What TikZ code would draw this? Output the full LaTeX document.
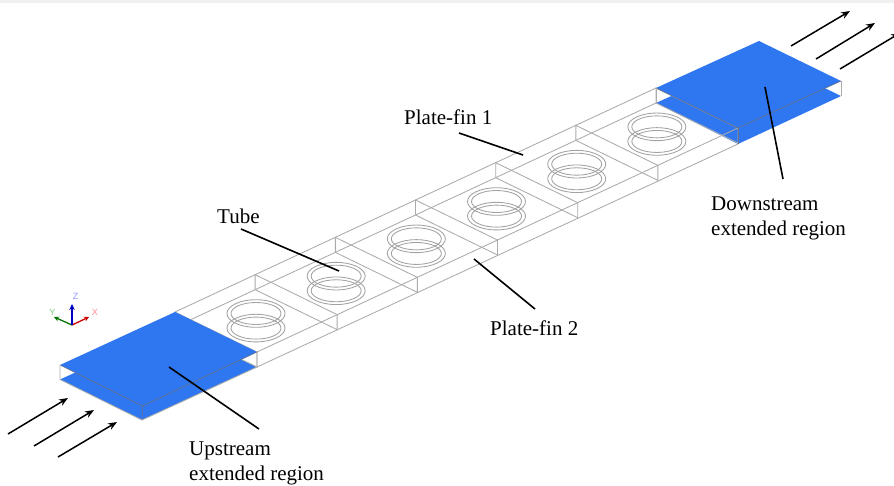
\documentclass[tikz,border=0pt]{standalone}
\usepackage{fontspec}
\setmainfont{Liberation Serif}
\setsansfont{Liberation Sans}
\usetikzlibrary{arrows.meta,calc}
\definecolor{finblue}{HTML}{2F76F1}
\definecolor{wire}{HTML}{ABABAB}
\definecolor{ringc}{HTML}{A2A2A2}
\definecolor{edgec}{HTML}{66738C}
\tikzset{
  x=1pt,y=-1pt,
  wireline/.style={draw=wire,line width=0.85pt},
  ringline/.style={draw=ringc,line width=0.85pt},
  edgeline/.style={draw=edgec,line width=0.65pt,line join=round},
  blueface/.style={fill=finblue,draw=none},
  flow/.style={draw=black,line width=1.5pt,-{Stealth[length=9pt,width=7pt]}},
  leader/.style={draw=black,line width=1.6pt},
  lab/.style={inner sep=0pt,font=\fontsize{21}{25}\selectfont,align=left,text=black},
  axlab/.style={inner sep=0pt,font=\sffamily\fontsize{9}{9}\selectfont},
}
\begin{document}
\begin{tikzpicture}
\useasboundingbox (0,0) rectangle (894,485);
\fill[white] (0,0) rectangle (894,485);
\fill[black!6] (0,0) rectangle (894,3);

% corners
\coordinate (uLt) at (60,365);  \coordinate (uBt) at (175,312);
\coordinate (uRt) at (257,352); \coordinate (uFt) at (142.5,406);
\coordinate (uLb) at (60,379.5);\coordinate (uBb) at (175,327);
\coordinate (uRb) at (257,367); \coordinate (uFb) at (142,420);
\coordinate (dLt) at (656,88);  \coordinate (dBt) at (759,41);
\coordinate (dRt) at (841,81);  \coordinate (dFt) at (738,128);
\coordinate (dLb) at (656,103); \coordinate (dBb) at (759,56);
\coordinate (dRb) at (841,96);  \coordinate (dFb) at (738,144);

% lower blue faces
\path[blueface] (uLb) -- (uBb) -- (uRb) -- (uFb) -- cycle;
\path[blueface] (dLb) -- (dBb) -- (dRb) -- (dFb) -- cycle;

% plate-fin wireframe
\draw[wireline] (uBt) -- (dLt);
\draw[wireline] (uBb) -- (dLb);
\draw[wireline] (uRt) -- (dFt);
\draw[wireline] (uRb) -- (dFb);
\foreach \i in {0,...,6}{
  \coordinate (Bt\i) at ($(175,312)+\i*(80.17,-37.33)$);
  \coordinate (Ft\i) at ($(257,352)+\i*(80.17,-37.33)$);
  \draw[wireline] (Bt\i) -- (Ft\i) -- ++(0,15) -- ($(Bt\i)+(0,15)$) -- cycle;
}
% tubes
\foreach \i in {0,...,5}{
  \coordinate (T\i) at ($(256,320.8)+\i*(80.17,-37.33)$);
  \draw[ringline] ($(T\i)+(0,-7.3)$) ellipse [x radius=29,y radius=13.8];
  \draw[ringline] ($(T\i)+(0,-7.3)$) ellipse [x radius=25,y radius=11];
  \draw[ringline] ($(T\i)+(0,7.3)$) ellipse [x radius=29,y radius=13.8];
  \draw[ringline] ($(T\i)+(0,7.3)$) ellipse [x radius=25,y radius=11];
}

% upper blue faces
\path[blueface] (uLt) -- (uBt) -- (uRt) -- (uFt) -- cycle;
\path[blueface] (dLt) -- (dBt) -- (dRt) -- (dFt) -- cycle;

% box edges
\draw[edgeline] (uLt) -- (uFt) -- (uRt);
\draw[edgeline] (dLt) -- (dFt) -- (dRt);
\draw[edgeline] (uFt) -- (uFb);
\draw[edgeline] (dFt) -- (dFb);
\draw[wireline] (uLt) -- (uLb) -- (uFb) -- (uRb) -- (uRt);
\draw[wireline] (dLt) -- (dLb);
\draw[wireline] (dRt) -- (dRb);

% flow arrows
\coordinate (a1s) at (8,434);   \coordinate (a1e) at (68,398);
\coordinate (a2s) at (34,446);  \coordinate (a2e) at (94,410);
\coordinate (a3s) at (58,457);  \coordinate (a3e) at (117,422);
\coordinate (a4s) at (791,46);  \coordinate (a4e) at (850,11);
\coordinate (a5s) at (816,59);  \coordinate (a5e) at (875,23);
\coordinate (a6s) at (840,69);  \coordinate (a6e) at (900,33);
\foreach \k in {1,...,6}{ \draw[flow] (a\k s) -- (a\k e); }

% labels
\node[lab,anchor=base west] (lfin1) at (404,124) {Plate-fin 1};
\node[lab,anchor=base west] (ltube) at (217,223) {Tube};
\node[lab,anchor=base west] (lfin2) at (490,335) {Plate-fin 2};
\node[lab,anchor=north west] (ldown) at (711,197) {Downstream\\extended region};
\node[lab,anchor=north west] (lup) at (189,442) {Upstream\\extended region};

% leaders
\coordinate (pfin1a) at (459,133); \coordinate (pfin1b) at (523,155);
\coordinate (ptubea) at (241,229); \coordinate (ptubeb) at (339,271);
\coordinate (pfin2a) at (535,309); \coordinate (pfin2b) at (474,259);
\coordinate (pdowna) at (783,179); \coordinate (pdownb) at (765,87);
\coordinate (pupa) at (259,429);   \coordinate (pupb) at (169,367);
\draw[leader] (pfin1a) -- (pfin1b);
\draw[leader] (ptubea) -- (ptubeb);
\draw[leader] (pfin2a) -- (pfin2b);
\draw[leader] (pdowna) -- (pdownb);
\draw[leader] (pupa) -- (pupb);

% axis triad
\coordinate (ax0) at (72,325);
\coordinate (axx) at (89,317);
\coordinate (axy) at (54,317);
\coordinate (axz) at (72,304);
\draw[draw=green!45!black,line width=1.3pt,-{Stealth[length=5pt,width=5pt]}] (ax0) -- (axy);
\draw[draw=red!80!black,line width=1.3pt,-{Stealth[length=5pt,width=5pt]}] (ax0) -- (axx);
\draw[draw=blue!75!black,line width=1.5pt,-{Stealth[length=6pt,width=5.5pt,fill=cyan!60!blue]}] (ax0) -- (axz);
\node[axlab,text=blue!40] (lz) at (75.5,296) {Z};
\node[axlab,text=green!60!black!50] (ly) at (52.5,312) {Y};
\node[axlab,text=red!45] (lx) at (95,312.5) {X};
\end{tikzpicture}
\end{document}
